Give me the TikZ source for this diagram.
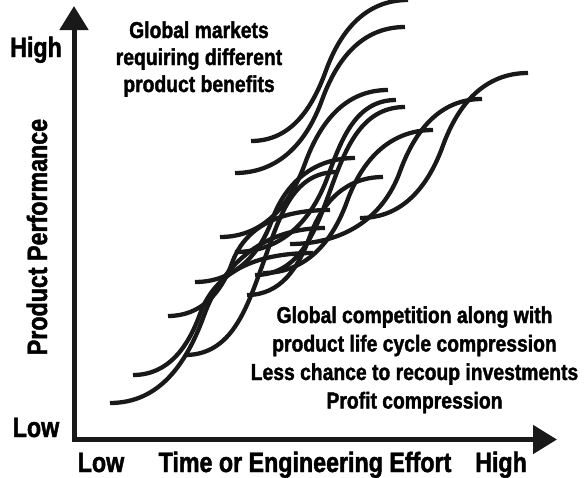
\documentclass[tikz,border=0pt]{standalone}
\usepackage{fontspec}
\setmainfont{Liberation Sans}
\newfontfamily\axfont[FakeStretch=0.83,FakeBold=1.6]{Liberation Sans}
\newfontfamily\blkfont[FakeStretch=0.84,FakeBold=1.6]{Liberation Sans}
\usetikzlibrary{arrows.meta}
% S-curve: start (x0,y0), x of the steep middle, end (x1,y1)
\newcommand\scurve[5]{\draw[curve] (#1,#2) to[out=0,in=250] (#3,{(#2+#5)/2}) to[out=70,in=180] (#4,#5);}
\begin{document}
\begin{tikzpicture}[x=1pt,y=-1pt,
  curve/.style={line width=4.3pt,color=black!90},
  axis/.style={line width=5pt,color=black!90,-{Triangle[length=24pt,width=28pt]}},
  axlbl/.style={font=\axfont\bfseries\fontsize{28}{30}\selectfont,anchor=base,inner sep=0pt},
  blk/.style={font=\blkfont\bfseries\fontsize{23}{26}\selectfont,anchor=base,inner sep=0pt}]
\useasboundingbox (0,0) rectangle (586,477);
\coordinate (o) at (74,439.5);
\coordinate (ytip) at (74,6);
\coordinate (xtip) at (557,439.5);
\draw[axis] ([yshift=2.5pt]o) -- (ytip);
\draw[axis] ([xshift=-2.5pt]o) -- (xtip);
% S-curves
\begin{scope}
\clip (0,0) rectangle (586,477);
\scurve{251}{141}{326}{408}{0}
\scurve{235}{173}{322}{405}{27}
\scurve{220}{237}{305}{388}{90}
\scurve{235}{252}{328}{396}{100}
\scurve{255}{275}{330}{405}{107}
\scurve{360}{218}{443}{528}{73}
\scurve{290}{244}{400}{482}{99}
\scurve{263}{273}{347}{433}{130}
\scurve{247}{295}{310}{383}{177}
\scurve{195}{282}{272}{355}{158}
\scurve{185}{355}{263}{337}{172}
\scurve{110}{403}{204}{325}{228}
\scurve{133}{375}{200}{313}{253}
\scurve{168}{316}{232}{330}{210}
\end{scope}
% labels
\node[axlbl] (hiY) at (36,57) {High};
\node[axlbl] (loY) at (36,437) {Low};
\node[axlbl] (loX) at (101,472) {Low};
\node[axlbl] (xl) at (305,472) {Time or Engineering Effort};
\node[axlbl] (hiX) at (501,472) {High};
\node[axlbl,rotate=90] (yl) at (47,237) {Product Performance};
\node[blk] (g1) at (199,38) {Global markets};
\node[blk] (g2) at (199,65) {requiring different};
\node[blk] (g3) at (199,92) {product benefits};
\node[blk] (c1) at (414.5,323) {Global competition along with};
\node[blk] (c2) at (414.5,351.5) {product life cycle compression};
\node[blk] (c3) at (414.5,380) {Less chance to recoup investments};
\node[blk] (c4) at (414.5,408.5) {Profit compression};
\end{tikzpicture}
\end{document}
